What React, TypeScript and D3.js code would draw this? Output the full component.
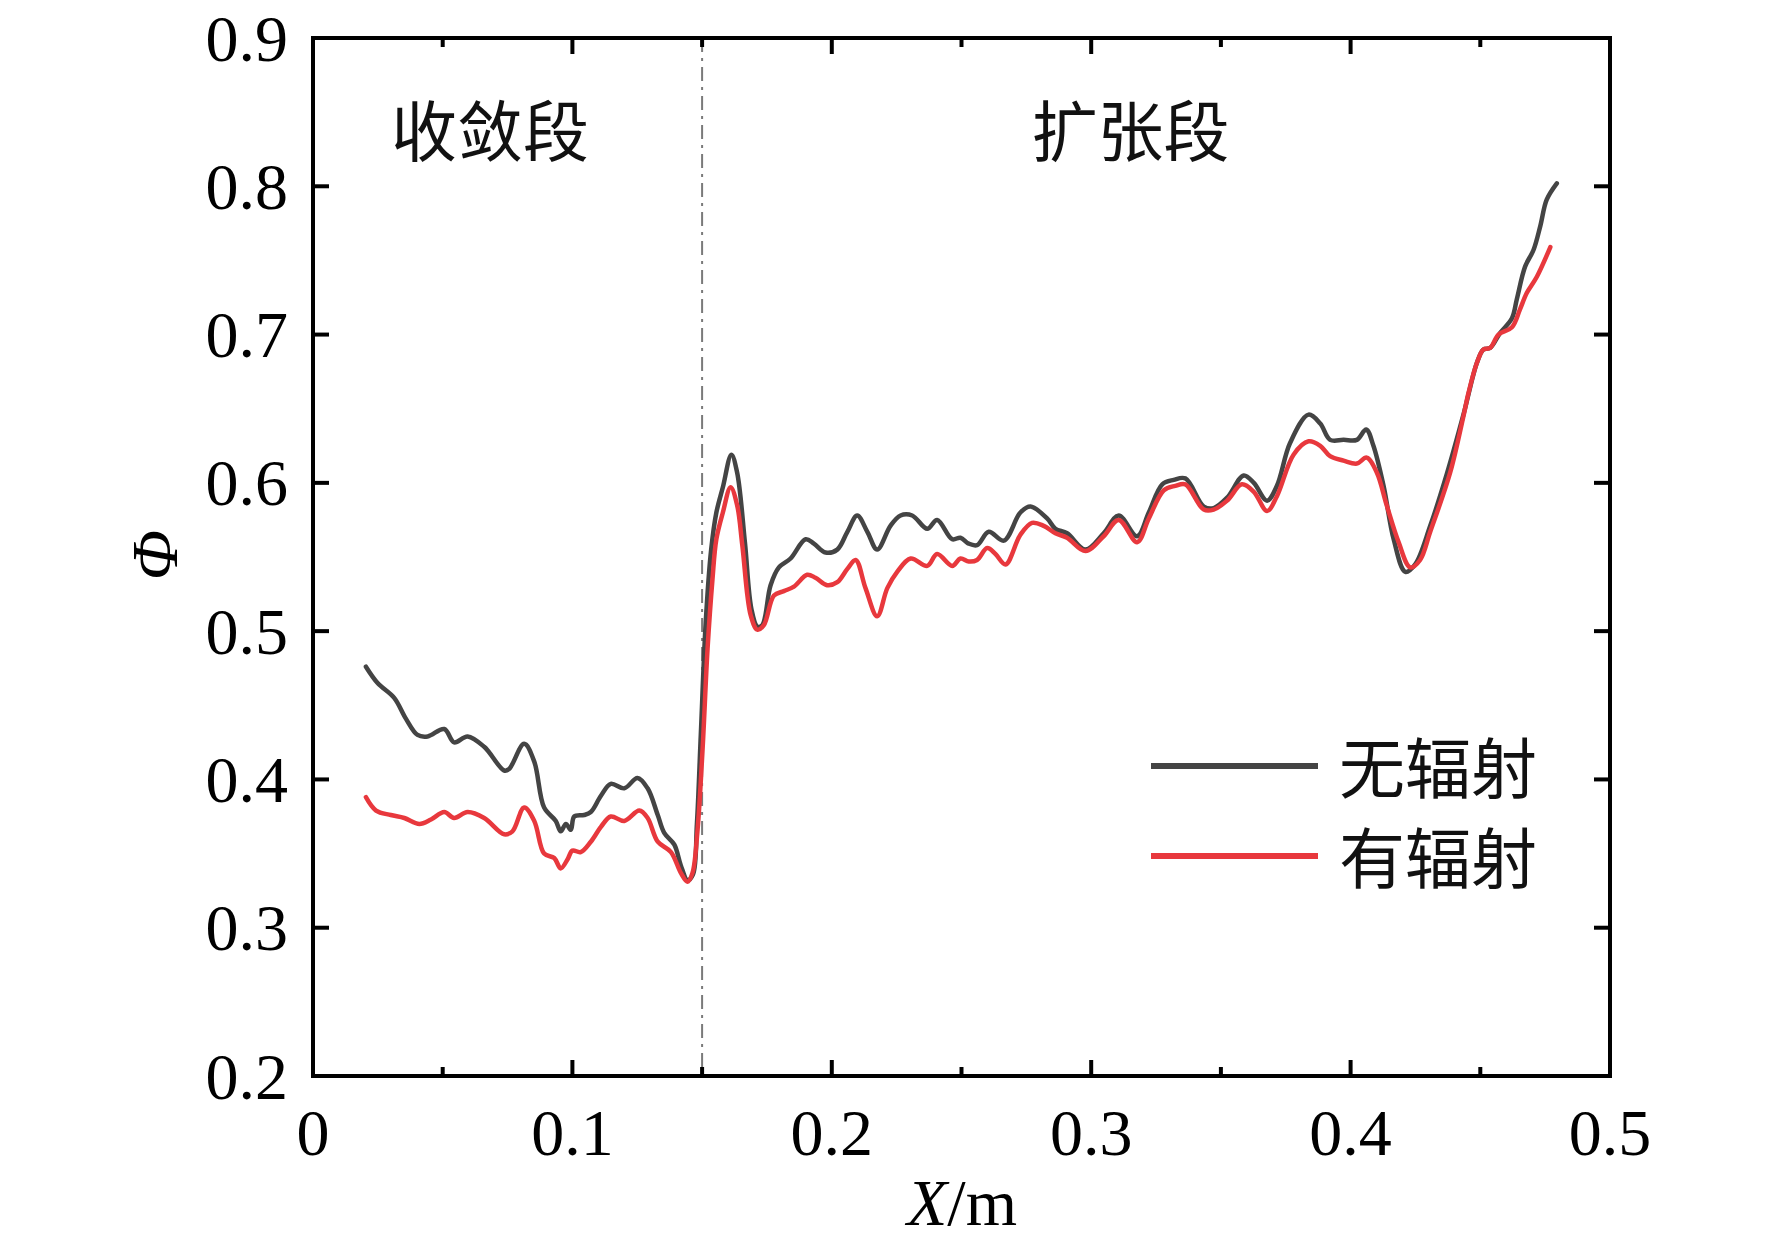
import React from "react";
import * as d3 from "d3";

// 无辐射 (black)
const noRadX = [
  0.0204, 0.0249, 0.0313, 0.0358, 0.0403, 0.0442, 0.0506, 0.0544, 0.0596, 0.066, 0.0737, 0.0756, 0.0814, 0.0853,
  0.0891, 0.0936, 0.0955, 0.0975, 0.0994, 0.1007, 0.1045, 0.1071, 0.111, 0.1148, 0.12, 0.1251, 0.129, 0.1329,
  0.1354, 0.1393, 0.1418, 0.1444, 0.1465, 0.148, 0.1495, 0.1514, 0.1535, 0.1555, 0.158, 0.1613, 0.1635, 0.1665,
  0.169, 0.1713, 0.1732, 0.1764, 0.1796, 0.1841, 0.1899, 0.1931, 0.1976, 0.2021, 0.206, 0.2098, 0.2137, 0.2175,
  0.2226, 0.2265, 0.231, 0.2368, 0.2406, 0.2464, 0.2496, 0.2528, 0.256, 0.2605, 0.2663, 0.2727, 0.2766, 0.283,
  0.2862, 0.2907, 0.2978, 0.3048, 0.3106, 0.3177, 0.3222, 0.3274, 0.3318, 0.3363, 0.3434, 0.3472, 0.3524, 0.3588,
  0.3627, 0.3678, 0.3716, 0.3767, 0.3838, 0.3883, 0.3921, 0.3973, 0.4024, 0.406, 0.4088, 0.4127, 0.4166, 0.4211,
  0.4249, 0.4307, 0.4371, 0.4435, 0.4487, 0.4512, 0.4538, 0.4576, 0.4622, 0.4641, 0.4673, 0.4705, 0.4731, 0.4756,
  0.4795,
];
const noRadY = [
  0.476, 0.465, 0.455, 0.441, 0.43, 0.429, 0.434, 0.425, 0.429, 0.422, 0.406, 0.407, 0.424, 0.412,
  0.381, 0.372, 0.365, 0.37, 0.366, 0.375, 0.376, 0.378, 0.389, 0.397, 0.394, 0.401, 0.394, 0.376,
  0.364, 0.356, 0.342, 0.332, 0.336, 0.37, 0.43, 0.506, 0.555, 0.58, 0.597, 0.619, 0.607, 0.56,
  0.515, 0.503, 0.504, 0.531, 0.543, 0.549, 0.562, 0.559, 0.553, 0.555, 0.567, 0.578, 0.567, 0.555,
  0.571, 0.578, 0.578, 0.569, 0.575, 0.562, 0.563, 0.559, 0.558, 0.567, 0.561, 0.58, 0.584, 0.576,
  0.569, 0.566, 0.555, 0.566, 0.578, 0.564, 0.58, 0.599, 0.602, 0.603, 0.584, 0.583, 0.59, 0.605,
  0.6, 0.588, 0.598, 0.627, 0.646, 0.64, 0.629, 0.629, 0.629, 0.636, 0.625, 0.598, 0.562, 0.54,
  0.545, 0.571, 0.606, 0.646, 0.681, 0.69, 0.691, 0.701, 0.711, 0.724, 0.746, 0.757, 0.773, 0.791,
  0.802,
];

// 有辐射 (red)
const radX = [
  0.0204, 0.0243, 0.03, 0.0352, 0.041, 0.0455, 0.0506, 0.0544, 0.0596, 0.066, 0.0737, 0.0769, 0.0814, 0.0853,
  0.0891, 0.093, 0.0955, 0.0981, 0.1, 0.1032, 0.1071, 0.111, 0.1148, 0.12, 0.1258, 0.129, 0.1329, 0.138,
  0.1418, 0.1444, 0.1463, 0.1482, 0.1502, 0.1521, 0.154, 0.1555, 0.158, 0.161, 0.1635, 0.1655, 0.1687, 0.1713,
  0.1738, 0.1777, 0.1815, 0.1854, 0.1905, 0.1937, 0.1982, 0.2021, 0.206, 0.2092, 0.213, 0.2175, 0.2214, 0.2252,
  0.2304, 0.2368, 0.2406, 0.2464, 0.2496, 0.2528, 0.256, 0.2599, 0.2631, 0.267, 0.2727, 0.2772, 0.2817, 0.2862,
  0.2907, 0.2978, 0.3048, 0.3106, 0.3177, 0.3222, 0.328, 0.3324, 0.3363, 0.3434, 0.3472, 0.3524, 0.3581, 0.3627,
  0.3678, 0.3716, 0.378, 0.3838, 0.3883, 0.3921, 0.3973, 0.4024, 0.4062, 0.4101, 0.4139, 0.4185, 0.423, 0.4268,
  0.4307, 0.4384, 0.4435, 0.4455, 0.4487, 0.4512, 0.4538, 0.457, 0.4622, 0.4653, 0.4679, 0.4718, 0.477,
];
const radY = [
  0.388, 0.379, 0.376, 0.374, 0.37, 0.373, 0.378, 0.374, 0.378, 0.374, 0.363, 0.365, 0.381, 0.372,
  0.35, 0.347, 0.34, 0.346, 0.352, 0.351, 0.358, 0.368, 0.375, 0.372, 0.379, 0.374, 0.358, 0.351,
  0.337, 0.331, 0.337, 0.365, 0.421, 0.488, 0.535, 0.562, 0.58, 0.597, 0.585, 0.558, 0.511, 0.501,
  0.504, 0.524, 0.527, 0.53, 0.538, 0.536, 0.531, 0.533, 0.542, 0.548, 0.529, 0.51, 0.529, 0.54,
  0.549, 0.544, 0.552, 0.544, 0.549, 0.547, 0.548, 0.556, 0.552, 0.545, 0.565, 0.573, 0.571, 0.566,
  0.563, 0.554, 0.564, 0.575, 0.56, 0.576, 0.595, 0.598, 0.599, 0.582, 0.582, 0.588, 0.599, 0.594,
  0.581, 0.591, 0.619, 0.628, 0.625, 0.618, 0.615, 0.613, 0.617, 0.607, 0.585, 0.56, 0.543, 0.548,
  0.567, 0.607, 0.645, 0.661, 0.681, 0.69, 0.691, 0.7, 0.705, 0.717, 0.728, 0.739, 0.759,
];

const xTicks = [0, 0.1, 0.2, 0.3, 0.4, 0.5];
const xTickLabels = ["0", "0.1", "0.2", "0.3", "0.4", "0.5"];
const xMinorTicks = [0.05, 0.15, 0.25, 0.35, 0.45];
const yTicks = [0.2, 0.3, 0.4, 0.5, 0.6, 0.7, 0.8, 0.9];
const sectionSplit = 0.15;
const sections = [
  { label: "收敛段", x: 0.0682 },
  { label: "扩张段", x: 0.3152 },
];
const seriesNames = ["无辐射", "有辐射"];

const App = () => {
  const width = 1772;
  const height = 1245;
  const left = 313;
  const right = 1610;
  const top = 38;
  const bottom = 1076;

  const x = d3.scaleLinear([0, 0.5], [left, right]);
  const y = d3.scaleLinear([0.2, 0.9], [bottom, top]);

  const path = (xs: number[], ys: number[]) =>
    d3
      .line<number>((d) => x(xs[d]), (d) => y(ys[d]))
      .curve(d3.curveCatmullRom.alpha(0.5))(d3.range(xs.length)) as string;

  const serif = "'Liberation Serif', 'Times New Roman', serif";
  const cjk = "'Noto Sans CJK SC', sans-serif";
  const colors = ["#444444", "#e8383d"];

  return (
    <div style={{ position: "absolute", left: 0, top: 0 }}>
      <svg width={width} height={height} style={{ display: "block", background: "#fff" }}>
        {/* section divider */}
        <line
          x1={x(sectionSplit)}
          x2={x(sectionSplit)}
          y1={top}
          y2={bottom}
          stroke="#7a7a7a"
          strokeWidth={2}
          strokeDasharray="14,6,3,6"
        />

        <g fill="none" strokeWidth={4.5} strokeLinejoin="round" strokeLinecap="round">
          <path d={path(noRadX, noRadY)} stroke={colors[0]} />
          <path d={path(radX, radY)} stroke={colors[1]} />
        </g>

        {/* frame */}
        <rect x={left} y={top} width={right - left} height={bottom - top} fill="none" stroke="#000" strokeWidth={4} />

        {/* ticks */}
        <g stroke="#000" strokeWidth={4}>
          {xTicks.map((t) => (
            <g key={"xt" + t}>
              <line x1={x(t)} x2={x(t)} y1={bottom} y2={bottom - 16} />
              <line x1={x(t)} x2={x(t)} y1={top} y2={top + 16} />
            </g>
          ))}
          {xMinorTicks.map((t) => (
            <g key={"xm" + t}>
              <line x1={x(t)} x2={x(t)} y1={bottom} y2={bottom - 9} />
              <line x1={x(t)} x2={x(t)} y1={top} y2={top + 9} />
            </g>
          ))}
          {yTicks.map((t) => (
            <g key={"yt" + t}>
              <line x1={left} x2={left + 16} y1={y(t)} y2={y(t)} />
              <line x1={right} x2={right - 16} y1={y(t)} y2={y(t)} />
            </g>
          ))}
        </g>

        {/* tick labels */}
        <g fontFamily={serif} fontSize={66} fill="#000">
          {xTicks.map((t, i) => (
            <text key={"xl" + t} x={x(t)} y={1155} textAnchor="middle">
              {xTickLabels[i]}
            </text>
          ))}
          {yTicks.map((t) => (
            <text key={"yl" + t} x={288} y={y(t)} textAnchor="end" dominantBaseline="central">
              {t.toFixed(1)}
            </text>
          ))}
        </g>

        {/* axis titles */}
        <text x={962} y={1225} textAnchor="middle" fontFamily={serif} fontSize={66}>
          <tspan fontStyle="italic">X</tspan>/m
        </text>
        <text
          transform={`translate(154,555) rotate(-90)`}
          textAnchor="middle"
          dominantBaseline="central"
          fontFamily={serif}
          fontStyle="italic"
          fontSize={66}
        >
          Φ
        </text>

        {/* section labels */}
        {sections.map((s) => (
          <text
            key={s.label}
            x={x(s.x)}
            y={127}
            textAnchor="middle"
            dominantBaseline="central"
            fontFamily={cjk}
            fontSize={66}
            fill="#111"
          >
            {s.label}
          </text>
        ))}

        {/* legend */}
        {seriesNames.map((name, i) => (
          <g key={name} transform={`translate(0,${766 + i * 90})`}>
            <line x1={1151} x2={1318} y1={0} y2={0} stroke={colors[i]} strokeWidth={6} />
            <text x={1339} y={-2} dominantBaseline="central" fontFamily={cjk} fontSize={66} fill="#111">
              {name}
            </text>
          </g>
        ))}
      </svg>
    </div>
  );
};

export default App;
